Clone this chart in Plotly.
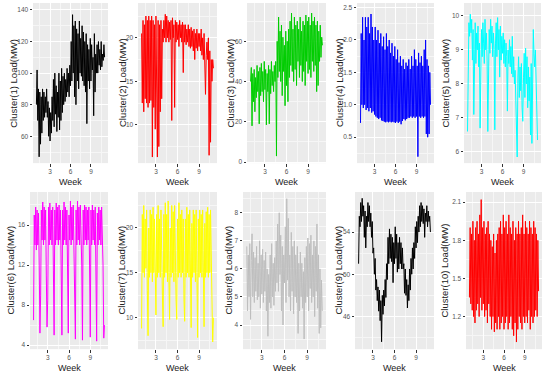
import numpy as np
import plotly.graph_objects as go

# ---- data: load readings (MW) sampled every 0.1 week, weeks 1..11 ----
cluster1 = [80, 102, 70, 90, 47, 88, 55, 85, 62, 90, 70,
            88, 72, 85, 75, 90, 72, 82, 60, 78, 57,
            75, 62, 85, 70, 96, 66, 100, 74, 92, 63,
            88, 72, 100, 64, 95, 70, 103, 75, 98, 80,
            100, 82, 96, 85, 103, 88, 100, 85, 105, 92,
            120, 95, 137, 100, 130, 85, 133, 80, 128, 95,
            125, 90, 133, 100, 122, 98, 130, 95, 126, 92,
            120, 88, 125, 68, 118, 95, 115, 90, 122, 95,
            118, 102, 110, 73, 125, 88, 112, 100, 118, 100,
            120, 105, 115, 102, 120, 104, 112, 108, 118, 110]
cluster2 = [20.5, 12.5, 22, 11.5, 21.5, 13, 22.5, 12.5, 22, 12, 22.5,
            12.5, 22, 12.8, 22.5, 6.3, 22, 12, 21.5, 9.5, 22.5,
            12, 6.3, 22, 7.5, 21.5, 11.5, 22, 13, 21, 19.5,
            22, 20, 22.7, 19.5, 22.5, 20, 22, 19.5, 21.8, 19.8,
            22, 10.5, 22.3, 20, 21.5, 12, 22, 19.5, 21.8, 19.8,
            21.5, 19, 22, 20, 21.5, 19.5, 21.8, 16, 21.5, 19.5,
            21.5, 19.2, 21, 19.5, 21.5, 19, 21, 18.8, 21.2, 19,
            20.8, 18.5, 21, 17.5, 20.5, 18.8, 21, 18.5, 20.5, 19,
            20.5, 18.5, 21, 18, 20, 17.5, 20.5, 17.8, 13.5, 18,
            19.5, 17.5, 20, 6.5, 18.5, 8, 17.5, 15, 17.5, 16.5]
cluster3 = [40, 47, 18, 44, 30, 46, 25, 42, 32, 48, 35,
            45, 19, 47, 33, 49, 35, 45, 30, 50, 36,
            46, 18.5, 44, 35, 48, 19, 46, 34, 50, 38,
            45, 35, 48, 40, 50, 3, 60, 42, 72, 45,
            65, 40, 68, 33, 62, 45, 58, 28, 65, 38,
            60, 30, 66, 42, 70, 48, 74, 45, 66, 40,
            72, 46, 68, 38, 70, 50, 66, 42, 72, 48,
            65, 40, 70, 45, 68, 38, 73, 50, 70, 44,
            72, 46, 68, 42, 74, 50, 70, 45, 72, 48,
            68, 35, 70, 38, 65, 50, 68, 52, 62, 58]
cluster4 = [0.72, 2.1, 1.0, 2.35, 0.95, 2.0, 1.0, 2.35, 0.92, 2.2, 0.95,
            2.35, 0.9, 2.1, 0.95, 2.4, 0.88, 2.2, 0.9, 2.0, 0.85,
            2.2, 0.82, 2.0, 0.8, 2.15, 0.78, 1.95, 0.8, 2.1, 0.76,
            1.9, 0.75, 2.05, 0.74, 1.85, 0.73, 2.1, 0.74, 1.9, 0.73,
            2.0, 0.74, 1.8, 0.73, 1.95, 0.74, 1.75, 0.73, 1.9, 0.72,
            1.7, 0.74, 1.85, 0.72, 1.65, 0.74, 1.75, 0.7, 1.6, 0.75,
            1.7, 0.78, 1.55, 0.76, 1.65, 0.78, 1.6, 0.8, 1.7, 0.8,
            1.55, 0.82, 1.75, 0.8, 1.6, 0.82, 1.85, 0.8, 1.7, 0.82,
            1.6, 0.2, 1.8, 0.82, 1.65, 0.8, 1.75, 0.82, 1.6, 0.8,
            1.85, 0.82, 2.0, 0.55, 1.7, 0.5, 1.6, 0.55, 1.5, 1.0]
cluster5 = [6.6, 9.2, 9.8, 9.4, 10.05, 9.5, 9.9, 8.7, 9.6, 7.1, 9.4,
            9.8, 8.6, 9.5, 9.0, 9.7, 8.5, 9.2, 6.7, 9.0, 9.6,
            8.8, 9.8, 9.2, 8.6, 9.9, 9.0, 9.5, 8.7, 6.6, 9.3,
            9.6, 8.9, 9.9, 9.2, 9.7, 8.8, 9.5, 9.0, 6.65, 9.2,
            9.8, 8.8, 9.95, 9.0, 9.6, 8.2, 9.7, 8.7, 9.4, 8.9,
            9.5, 8.6, 9.3, 8.5, 9.2, 8.8, 7.2, 9.0, 8.6, 9.3,
            8.5, 9.1, 8.3, 9.4, 8.2, 8.8, 8.0, 8.4, 7.5, 6.0,
            5.85, 8.2, 8.8, 7.6, 8.5, 7.8, 8.6, 7.3, 6.9, 8.2,
            8.9, 7.6, 9.05, 8.0, 8.8, 7.3, 8.5, 7.5, 8.2, 6.5,
            8.6, 6.25, 9.3, 9.6, 8.9, 8.5, 9.0, 8.3, 7.0, 6.35]
cluster6 = [6.5, 17, 14, 17.8, 13.5, 17.5, 14, 17.2, 12, 5.2, 9,
            17.5, 14.5, 18.3, 14, 17.8, 14.5, 17.5, 11, 5.8, 8.5,
            17.8, 14, 18.2, 14.5, 17.5, 14, 17.8, 11.5, 5.0, 17.5,
            14, 18.2, 14.5, 17.8, 14, 18, 14.5, 17.5, 12, 5.0,
            17.5, 14, 18.3, 14.5, 17.8, 14, 17.5, 12, 5.2, 17,
            14.5, 18.4, 14, 17.8, 14.5, 18, 14, 12.5, 4.6, 17.5,
            14, 18.4, 14.5, 17.8, 14, 18, 14.5, 12, 4.5, 17.5,
            14, 18, 14.5, 17.8, 14, 17.5, 14.5, 17.8, 12, 4.8,
            17.5, 14, 18, 14.5, 17.5, 14, 17.8, 11.5, 4.4, 17.2,
            14, 17.8, 14.5, 17.5, 14, 17.8, 14.5, 12, 4.7, 6.0]
cluster7 = [8.8, 21.5, 15, 22.5, 14.5, 21, 15.5, 22, 13, 8.0, 20,
            14.5, 22, 15, 21.5, 14, 22.3, 15, 21, 12, 10.3,
            21.5, 14.5, 22.5, 15, 21, 14.5, 22, 15, 12.5, 9.0,
            21.5, 14.5, 22.8, 15, 21.5, 14, 23, 14.5, 9.8, 20,
            14.5, 22.5, 15, 21.8, 14, 22.5, 15, 12, 9.8, 21,
            14.5, 22.8, 15, 21.5, 14.5, 22, 15, 21, 12, 9.6,
            21, 14.5, 22.3, 15, 21.5, 14.5, 22, 12.5, 8.9, 20.5,
            14.5, 22, 15, 21.5, 14, 22, 12, 7.8, 21, 14.5,
            22, 15, 21.5, 14.5, 22, 13, 9.0, 20.5, 14.5, 21.8,
            15, 22.3, 14.5, 21.5, 15, 22, 14, 12, 7.3, 10]
cluster8 = [6.8, 4.5, 6.5, 5.0, 6.9, 4.2, 6.3, 7.25, 5.0, 6.6, 4.8,
            6.4, 5.2, 6.8, 4.9, 6.2, 5.0, 7.0, 4.6, 6.5, 5.1,
            6.7, 4.8, 6.3, 5.2, 6.6, 4.5, 6.0, 3.6, 5.8, 4.8,
            6.5, 4.6, 6.9, 5.0, 6.2, 4.7, 6.4, 5.2, 7.0, 5.5,
            7.6, 5.2, 8.0, 5.8, 7.2, 4.5, 6.8, 4.0, 6.5, 5.5,
            7.5, 4.8, 8.5, 5.6, 7.8, 5.0, 6.5, 4.5, 7.3, 5.2,
            6.8, 4.4, 7.0, 5.0, 6.5, 4.8, 6.8, 3.7, 6.2, 4.5,
            6.6, 5.0, 6.2, 4.6, 5.9, 3.5, 6.4, 4.8, 6.8, 5.0,
            7.1, 4.5, 6.9, 5.3, 7.2, 4.8, 6.5, 5.0, 7.0, 4.3,
            6.8, 5.2, 7.6, 4.6, 6.5, 3.7, 6.0, 3.9, 5.6, 4.5]
cluster9 = [51, 55.5, 54.5, 56.8, 55, 57.2, 55.5, 56.5, 53.5, 56, 52.5,
            55.5, 54.5, 56.8, 55, 56.5, 54.5, 55.8, 53.5, 55, 52,
            52.5, 50, 51.5, 48.5, 49.5, 47.5, 48.8, 46.5, 48.5, 45.6,
            47.5, 43.6, 48, 46.2, 48.5, 47, 49.5, 47.8, 51, 49.5,
            53.5, 51, 54.3, 51.5, 53.8, 51.2, 53.5, 49.2, 53, 51,
            54.5, 51.5, 53.8, 50.2, 53, 50.5, 53.5, 51, 53, 50.5,
            52.5, 50.5, 51, 48.2, 50.5, 48, 49.5, 46.8, 49, 47.5,
            50.5, 48.5, 51.5, 50, 52.5, 50.5, 53, 51.5, 54.5, 52.5,
            55, 53, 55.5, 54, 56.5, 54.5, 56.8, 55, 56.5, 54.8,
            56.2, 53.5, 55.8, 55, 56.5, 54.5, 56, 55, 55.5, 54]
cluster10 = [1.35, 1.9, 1.3, 1.85, 1.25, 1.95, 1.2, 1.8, 1.15, 1.9, 1.25,
             1.95, 1.3, 1.85, 1.2, 2.0, 1.35, 2.12, 1.25, 1.9, 1.3,
             1.95, 1.2, 1.85, 1.25, 1.9, 1.15, 1.95, 1.3, 1.85, 1.2,
             1.8, 1.1, 1.75, 1.2, 1.85, 1.08, 1.7, 1.15, 1.8, 1.1,
             1.85, 1.2, 1.9, 1.1, 1.95, 1.15, 1.85, 1.2, 2.0, 1.1,
             1.9, 1.15, 1.95, 1.2, 1.85, 1.1, 2.0, 1.15, 1.9, 1.2,
             1.85, 1.1, 1.95, 1.05, 1.8, 1.15, 1.9, 1.0, 1.85, 1.1,
             1.95, 1.2, 1.85, 1.15, 1.9, 1.1, 2.0, 1.2, 1.85, 1.15,
             1.95, 1.2, 1.9, 1.15, 1.85, 1.25, 1.95, 1.1, 1.9, 1.2,
             1.85, 1.15, 1.95, 1.2, 1.9, 1.25, 1.85, 1.2, 1.8, 1.4]

series = [cluster1, cluster2, cluster3, cluster4, cluster5,
          cluster6, cluster7, cluster8, cluster9, cluster10]
colors = ["#000000", "#FF0000", "#00CD00", "#0000FF", "#00FFFF",
          "#FF00FF", "#FFFF00", "#BEBEBE", "#000000", "#FF0000"]
titles = ["Cluster(%d) Load(MW)" % (i + 1) for i in range(10)]
x_ticks = [3, 6, 9]

# ---- layout (pixel geometry) ----
W, H = 550, 380
xdom_px = [(33, 108), (138, 217), (247, 326), (357, 434), (464, 541),
           (30, 108), (138, 217), (243, 326), (355, 434), (466, 542)]
row_px = [(3, 164), (193, 351)]
yranges = [(43, 144.4), (5.6, 24.0), (-0.5, 79), (0.1, 2.57), (5.67, 10.38),
           (3.6, 19.3), (6.5, 24.0), (3.14, 8.74), (42.9, 57.8), (0.944, 2.18)]
ydticks = [20, 5, 20, 0.5, 1, 4, 5, 1, 4, 0.3]
ytick0 = [0, 0, 0, 0, 0, 0, 0, 0, 2, 0]
yfmt = ["", "", "", ".1f", "", "", "", "", "", ".1f"]
ytitle_x = [12.7, 122, 230.5, 339, 445.5, 11, 122, 229, 339, 445]
week_y = [182.5, 369.5]

fig = go.Figure()
layout = dict(width=W, height=H, margin=dict(l=0, r=0, t=0, b=0),
              paper_bgcolor="white", plot_bgcolor="#EBEBEB", showlegend=False,
              font=dict(family="Liberation Sans, Arial, sans-serif"))
annotations = []
for i in range(10):
    vals = series[i]
    weeks = np.linspace(1, 11, len(vals))
    sfx = "" if i == 0 else str(i + 1)
    fig.add_trace(go.Scatter(x=weeks, y=vals, mode="lines",
                             line=dict(color=colors[i], width=1.0),
                             xaxis="x" + sfx, yaxis="y" + sfx,
                             hoverinfo="skip"))
    r = 0 if i < 5 else 1
    x0, x1 = xdom_px[i]
    t, b = row_px[r]
    layout["xaxis" + sfx] = dict(
        domain=[x0 / W, x1 / W], anchor="y" + sfx, range=[0.5, 11.5],
        tickmode="array", tickvals=x_ticks, ticks="outside", ticklen=2.5,
        tickcolor="#333333", tickwidth=1,
        tickfont=dict(size=6.5, color="#555555"),
        showgrid=True, gridcolor="white", gridwidth=1, zeroline=False,
        showline=False,
        minor=dict(tickvals=[1.5, 4.5, 7.5, 10.5], showgrid=True,
                   gridcolor="#F6F6F6", gridwidth=0.5, ticks=""))
    y0, y1 = yranges[i]
    layout["yaxis" + sfx] = dict(
        domain=[1 - b / H, 1 - t / H], anchor="x" + sfx, range=[y0, y1],
        tick0=ytick0[i], dtick=ydticks[i], tickformat=yfmt[i],
        ticks="outside", ticklen=2.5, tickcolor="#333333", tickwidth=1,
        tickfont=dict(size=6.5, color="#555555"),
        showgrid=True, gridcolor="white", gridwidth=1, zeroline=False,
        showline=False,
        minor=dict(tick0=ytick0[i], dtick=ydticks[i] / 2, showgrid=True,
                   gridcolor="#F6F6F6", gridwidth=0.5, ticks=""))
    annotations.append(dict(text=titles[i], x=ytitle_x[i] / W,
                            y=1 - ((t + b) / 2) / H, xref="paper", yref="paper",
                            textangle=-90, showarrow=False,
                            xanchor="center", yanchor="middle",
                            font=dict(size=9.5, color="#222222")))
    annotations.append(dict(text="Week", x=((x0 + x1) / 2) / W,
                            y=1 - week_y[r] / H, xref="paper", yref="paper",
                            showarrow=False, xanchor="center", yanchor="middle",
                            font=dict(size=9, color="#222222")))
layout["annotations"] = annotations
fig.update_layout(**layout)
fig.write_html("out.html", config={"displayModeBar": False},
               post_script="document.body.style.margin='0px';"
                           "document.body.style.padding='0px';")
